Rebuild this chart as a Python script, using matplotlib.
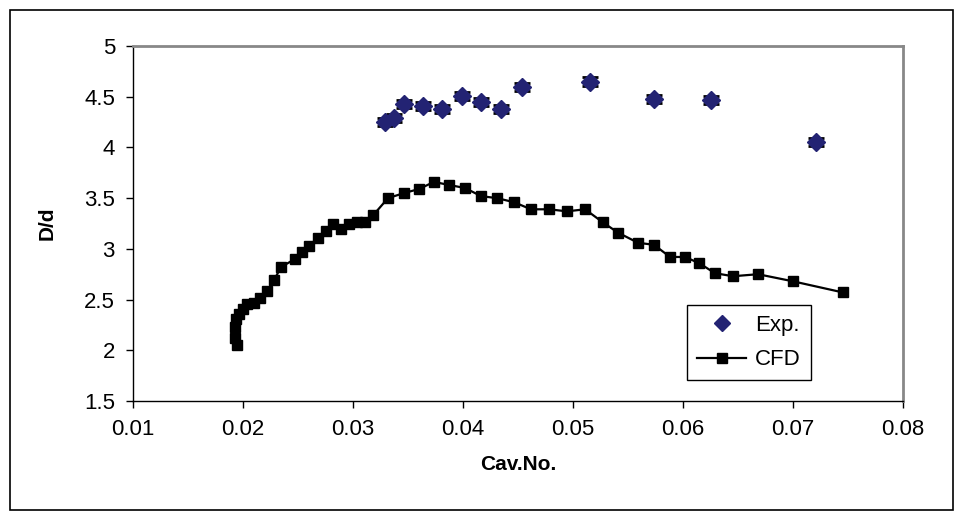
import matplotlib.pyplot as plt
from matplotlib.patches import Rectangle
from matplotlib.lines import Line2D

plt.rcParams['font.family'] = ['Liberation Sans', 'DejaVu Sans']

# experimental points
exp_x = [0.0329, 0.0337, 0.0346, 0.0364, 0.0381, 0.0399, 0.0416, 0.0435,
         0.0454, 0.0515, 0.0574, 0.0625, 0.0721]
exp_y = [4.25, 4.29, 4.43, 4.41, 4.38, 4.51, 4.45, 4.38,
         4.60, 4.65, 4.48, 4.47, 4.05]
exp_err = 0.04

# CFD curve
cfd_x = [0.01945, 0.01927, 0.01927, 0.01936, 0.01964, 0.0200, 0.02036, 0.0210,
         0.02155, 0.02218, 0.02282, 0.02345, 0.02473, 0.02536, 0.02600, 0.02682,
         0.02755, 0.02818, 0.0289, 0.02964, 0.03036, 0.0311, 0.03182, 0.03318,
         0.03464, 0.0360, 0.03736, 0.03873, 0.04018, 0.04164, 0.04309, 0.04464,
         0.04618, 0.04782, 0.04945, 0.0511, 0.05273, 0.05409, 0.05591, 0.05736,
         0.05882, 0.06018, 0.06145, 0.06291, 0.06455, 0.06682, 0.0700, 0.07455]
cfd_y = [2.05, 2.12, 2.23, 2.31, 2.36, 2.41, 2.46, 2.47,
         2.52, 2.58, 2.69, 2.82, 2.90, 2.97, 3.03, 3.11,
         3.18, 3.25, 3.20, 3.25, 3.26, 3.26, 3.33, 3.50,
         3.55, 3.59, 3.66, 3.63, 3.60, 3.52, 3.50, 3.46,
         3.39, 3.39, 3.37, 3.39, 3.26, 3.16, 3.06, 3.04,
         2.92, 2.92, 2.86, 2.76, 2.73, 2.75, 2.68, 2.57]

xticks = [0.01, 0.02, 0.03, 0.04, 0.05, 0.06, 0.07, 0.08]
yticks = [1.5, 2, 2.5, 3, 3.5, 4, 4.5, 5]

fig = plt.figure(figsize=(9.63, 5.2), dpi=100)
ax = fig.add_axes([133/963, 1-401/520, 770/963, 355/520])

# outer chart border
fig.patches.append(Rectangle((10/963, 10/520), 943/963, 500/520, transform=fig.transFigure,
                             fill=False, edgecolor='black', linewidth=1.2))

navy = '#232373'
ax.errorbar(exp_x, exp_y, yerr=exp_err, fmt='D', color=navy, markersize=9,
            ecolor='black', elinewidth=1.5, capsize=6, capthick=2, zorder=3)
ax.plot(cfd_x, cfd_y, color='black', marker='s', markersize=7, linewidth=1.6, zorder=2)

ax.set_xlim(0.01, 0.08)
ax.set_ylim(1.5, 5)
ax.set_xticks(xticks)
ax.set_xticklabels([f'{v:g}' for v in xticks])
ax.set_yticks(yticks)
ax.set_yticklabels([f'{v:g}' for v in yticks])
ax.tick_params(direction='out', length=5, width=1, labelsize=16, pad=8)

for s in ['top', 'right']:
    ax.spines[s].set_color('#888888')
    ax.spines[s].set_linewidth(2)
for s in ['left', 'bottom']:
    ax.spines[s].set_color('black')
    ax.spines[s].set_linewidth(1)

ax.set_xlabel('Cav.No.', fontsize=15, fontweight='bold', labelpad=11)
ax.set_ylabel('D/d', fontsize=15, fontweight='bold', labelpad=20)

handles = [Line2D([], [], linestyle='none', marker='D', color=navy, markersize=8),
           Line2D([], [], color='black', marker='s', markersize=7, linewidth=1.6)]
leg = ax.legend(handles, ['Exp.', 'CFD'], loc='upper right', bbox_to_anchor=(0.8805, 0.2704),
                borderaxespad=0, fancybox=False, edgecolor='black', fontsize=16, framealpha=1,
                handlelength=2.2, borderpad=0.45, labelspacing=0.6, handletextpad=0.4)
leg.get_frame().set_linewidth(1)

fig.savefig('out.png', dpi=100)
